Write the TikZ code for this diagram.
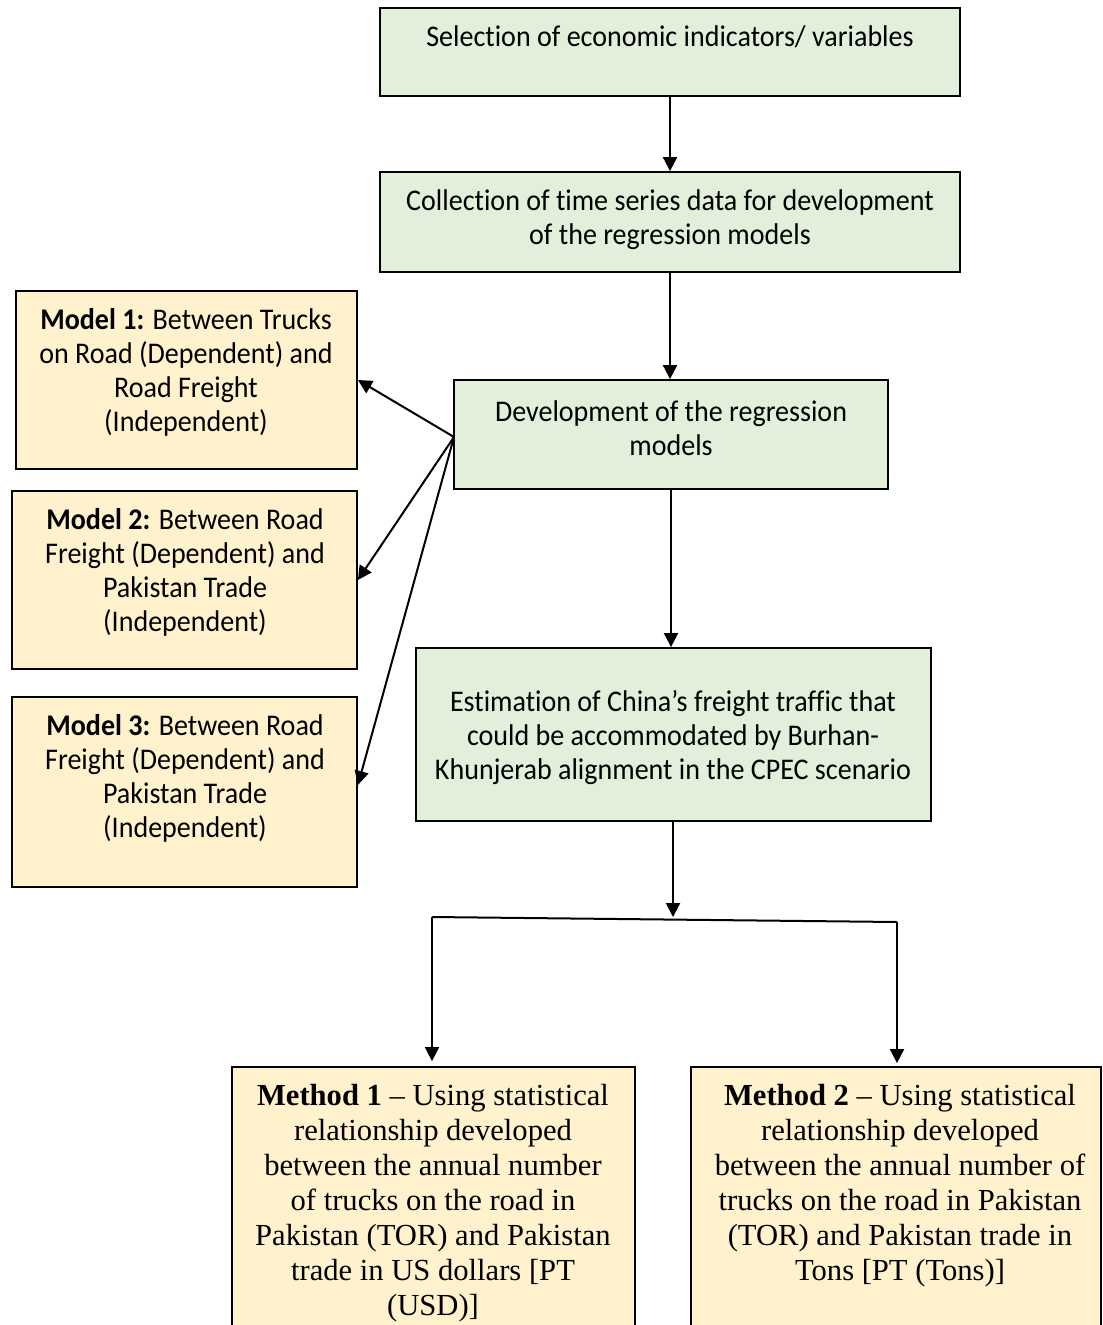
\documentclass[tikz,border=0pt]{standalone}
\usepackage{fontspec}
\setmainfont{Carlito}
\newfontfamily\calib[FakeStretch=0.935,Ligatures=NoCommon]{Carlito}
\newfontfamily\tms[Ligatures=NoCommon]{Liberation Serif}
\usetikzlibrary{arrows.meta}
\definecolor{greenfill}{HTML}{E2EFDA}
\definecolor{yellowfill}{HTML}{FFF2CC}
\begin{document}
\begin{tikzpicture}[x=0.5pt,y=-0.5pt,
  box/.style={draw=black, line width=0.9pt, inner sep=0pt},
  gbox/.style={box, fill=greenfill},
  ybox/.style={box, fill=yellowfill},
  ctext/.style={align=center, inner sep=0pt, font=\calib\fontsize{15}{17}\selectfont},
  ttext/.style={align=center, inner sep=0pt, font=\tms\fontsize{15.3}{17.5}\selectfont},
  arr/.style={line width=1pt, -{Triangle[length=7pt,width=7pt]}},
  conn/.style={line width=1pt}]
\useasboundingbox (0,0) rectangle (1102,1325);
\clip (0,0) rectangle (1102,1325);
\fill[white] (0,0) rectangle (1102,1325);
% boxes
\node[gbox, minimum width=290pt, minimum height=44pt] (A) at (670,52) {};
\node[gbox, minimum width=290pt, minimum height=50pt] (B) at (670,222) {};
\node[gbox, minimum width=217pt, minimum height=54.5pt] (C) at (671,434.5) {};
\node[gbox, minimum width=257.5pt, minimum height=86.5pt] (D) at (673.5,734.5) {};
\node[ybox, minimum width=170.5pt, minimum height=89pt] (M1) at (186.5,380) {};
\node[ybox, minimum width=172.5pt, minimum height=89pt] (M2) at (184.5,580) {};
\node[ybox, minimum width=172.5pt, minimum height=95pt] (M3) at (184.5,792) {};
\node[ybox, minimum width=201.5pt, minimum height=166.5pt] (E1) at (433.5,1233.5) {};
\node[ybox, minimum width=205pt, minimum height=166.5pt] (E2) at (896,1233.5) {};
% texts
\node[ctext] (tA) at (670,37) {Selection of economic indicators/ variables};
\node[ctext] (tB) at (670,219.5) {Collection of time series data for development\\of the regression models};
\node[ctext] (tC) at (671,428) {Development of the regression\\models};
\node[ctext] (tD) at (673,737) {Estimation of China’s freight traffic that\\could be accommodated by Burhan-\\Khunjerab alignment in the CPEC scenario};
\node[ctext] (tM1) at (186,372) {\textbf{Model 1:} Between Trucks\\on Road (Dependent) and\\Road Freight\\(Independent)};
\node[ctext] (tM2) at (185,572) {\textbf{Model 2:} Between Road\\Freight (Dependent) and\\Pakistan Trade\\(Independent)};
\node[ctext] (tM3) at (185,778) {\textbf{Model 3:} Between Road\\Freight (Dependent) and\\Pakistan Trade\\(Independent)};
\node[ttext] (tE1) at (433,1203) {\textbf{Method 1} – Using statistical\\relationship developed\\between the annual number\\of trucks on the road in\\Pakistan (TOR) and Pakistan\\trade in US dollars [PT\\(USD)]};
\node[ttext] (tE2) at (900,1185.5) {\textbf{Method 2} – Using statistical\\relationship developed\\between the annual number of\\trucks on the road in Pakistan\\(TOR) and Pakistan trade in\\Tons [PT (Tons)]};
% connectors
\draw[arr] (A.south) -- (B.north);
\draw[arr] (B.south) -- (B.south |- C.north);
\draw[arr] (C.south) -- (C.south |- D.north);
\coordinate (S) at (454,437);
\draw[arr] (S) -- (M1.east);
\draw[arr] (S) -- (M2.east);
\draw[arr] (S) -- ([yshift=3.5pt]M3.east);
\coordinate (J) at (673,917);
\coordinate (L) at (432,917);
\coordinate (R) at (897,922);
\draw[arr] (D.south -| J) -- (J);
\draw[conn] (L) -- (R);
\draw[arr] (L) -- ([yshift=2.5pt]L |- E1.north);
\draw[arr] (R) -- ([yshift=1.5pt]R |- E2.north);
\end{tikzpicture}
\end{document}
